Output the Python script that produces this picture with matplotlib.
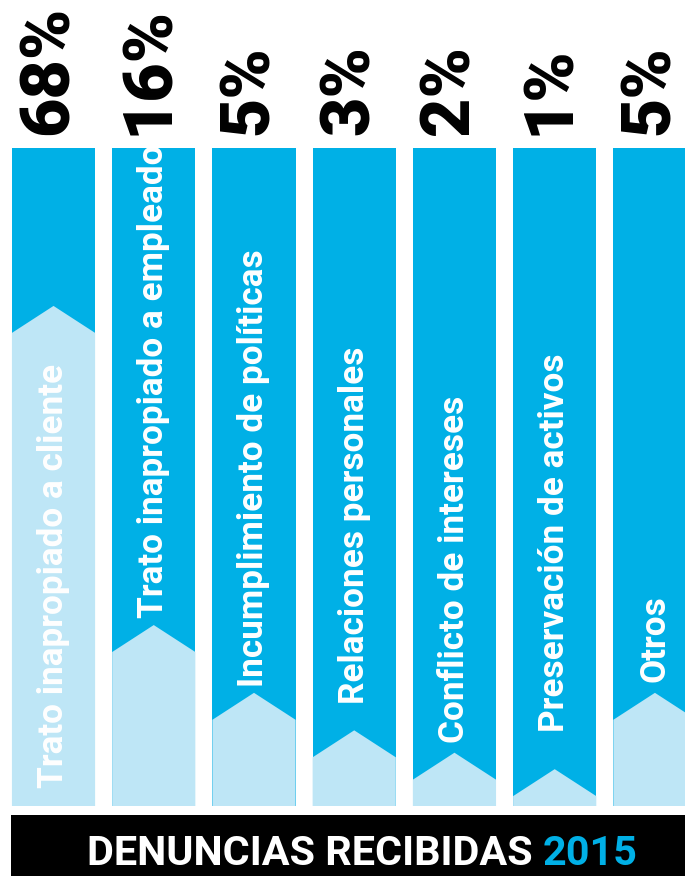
import matplotlib
matplotlib.use("Agg")
import matplotlib.pyplot as plt
import numpy as np

# data
categories = [
    "Trato inapropiado a cliente",
    "Trato inapropiado a empleado",
    "Incumplimiento de políticas",
    "Relaciones personales",
    "Conflicto de intereses",
    "Preservación de activos",
    "Otros",
]
pct_labels = ["68%", "16%", "5%", "3%", "2%", "1%", "5%"]
# height of the light fill (shoulder of the arrow), % of column height
fill_levels = [71.9, 23.4, 13.1, 7.4, 4.0, 1.5, 13.1]

# layout / style
label_bottom = [2.7, 28.6, 18.1, 15.5, 9.6, 11.2, 18.8]
blue = "#00B0E6"
light = "#BEE6F6"
bar_w = 0.83
tip = 4.1  # arrow tip height, in column %

W, H = 685, 876
fig = plt.figure(figsize=(W / 100, H / 100), dpi=100)
fig.patch.set_facecolor("white")

ax = fig.add_axes([3.4 / W, (H - 806) / H, 681.6 / W, 658 / H])
ax.set_xlim(-0.5, 6.3)
ax.set_ylim(0, 100)
ax.axis("off")

x = np.arange(len(categories))
ax.bar(x, 100, width=bar_w, color=blue, linewidth=0)

for i, f in enumerate(fill_levels):
    l, r = i - bar_w / 2, i + bar_w / 2
    ax.fill([l, r, r, i, l], [0, 0, f, f + tip, f], color=light, lw=0)

for i, (cat, p) in enumerate(zip(categories, pct_labels)):
    ax.annotate(p, (i, 100), xytext=(-3, 9.5), textcoords="offset points",
                rotation=90, ha="center", va="bottom", fontsize=49,
                fontweight="heavy", family="Roboto", color="black",
                annotation_clip=False)
    ax.text(i, label_bottom[i], cat, rotation=90, ha="center", va="bottom",
            fontsize=25.3, fontweight="bold", family="Roboto", color="white")

# title bar
bar = fig.add_axes([11 / W, 0, (W - 11) / W, 61 / H])
bar.set_facecolor("black")
bar.set_xticks([])
bar.set_yticks([])
for s in bar.spines.values():
    s.set_visible(False)

fig.text(87 / W, 1 - 865 / H, "DENUNCIAS RECIBIDAS", color="white",
         fontsize=29.8, fontweight="bold", family="Roboto", va="baseline", ha="left")
fig.text(543 / W, 1 - 865 / H, "2015", color=blue,
         fontsize=29.8, fontweight="bold", family="Roboto", va="baseline", ha="left")

fig.savefig("out.png", dpi=100)
